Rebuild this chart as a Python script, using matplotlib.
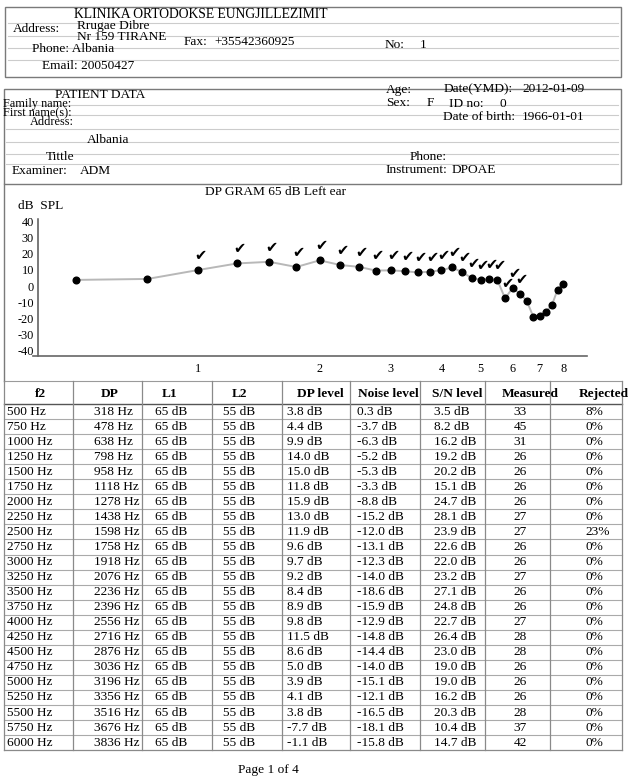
import matplotlib
matplotlib.use("Agg")
from matplotlib import pyplot as plt
from matplotlib.patches import Rectangle

plt.rcParams['font.family'] = ['Liberation Serif', 'DejaVu Serif']

# table rows (page 1)
f2_hz = [500, 750, 1000, 1250, 1500, 1750, 2000, 2250, 2500, 2750, 3000, 3250,
         3500, 3750, 4000, 4250, 4500, 4750, 5000, 5250, 5500, 5750, 6000]
dp_hz = [318, 478, 638, 798, 958, 1118, 1278, 1438, 1598, 1758, 1918, 2076,
         2236, 2396, 2556, 2716, 2876, 3036, 3196, 3356, 3516, 3676, 3836]
l1_db = [65] * 23
l2_db = [55] * 23
dp_level = [3.8, 4.4, 9.9, 14.0, 15.0, 11.8, 15.9, 13.0, 11.9, 9.6, 9.7, 9.2,
            8.4, 8.9, 9.8, 11.5, 8.6, 5.0, 3.9, 4.1, 3.8, -7.7, -1.1]
noise_level = [0.3, -3.7, -6.3, -5.2, -5.3, -3.3, -8.8, -15.2, -12.0, -13.1, -12.3, -14.0,
               -18.6, -15.9, -12.9, -14.8, -14.4, -14.0, -15.1, -12.1, -16.5, -18.1, -15.8]
sn_level = [3.5, 8.2, 16.2, 19.2, 20.2, 15.1, 24.7, 28.1, 23.9, 22.6, 22.0, 23.2,
            27.1, 24.8, 22.7, 26.4, 23.0, 19.0, 19.0, 16.2, 20.3, 10.4, 14.7]
measured = [33, 45, 31, 26, 26, 26, 26, 27, 27, 26, 26, 27,
            26, 26, 27, 28, 28, 26, 26, 26, 28, 37, 42]
rejected = [8, 0, 0, 0, 0, 0, 0, 0, 23, 0, 0, 0,
            0, 0, 0, 0, 0, 0, 0, 0, 0, 0, 0]

# dp-gram points, the last ones come from the next pages
gram_f2 = f2_hz + [6250, 6500, 6750, 7000, 7250, 7500, 7750, 8000]
gram_dp = dp_level + [-4.7, -9.0, -19.0, -18.3, -16.0, -12.0, -2.3, 1.4]
gram_ok = [0, 0, 1, 1, 1, 1, 1, 1, 1, 1, 1, 1, 1, 1, 1, 1, 1, 1, 1, 1, 1, 1, 1,
           1, 0, 0, 0, 0, 0, 0, 0]

y_ticks = [40, 30, 20, 10, 0, -10, -20, -30, -40]
x_ticks = [1000, 2000, 3000, 4000, 5000, 6000, 7000, 8000]
x_labels = ["1", "2", "3", "4", "5", "6", "7", "8"]

W, H = 631, 779
fig = plt.figure(figsize=(W / 100, H / 100), dpi=100)

page = fig.add_axes([0, 0, 1, 1])
page.set_xlim(0, W)
page.set_ylim(H, 0)
page.axis("off")

fs = 9.6
box_col = "#7a7a7a"
form_col = "#cccccc"


def txt(s, x, y, size=fs, **kw):
    page.text(x, y, s, fontsize=size, va="center", ha=kw.pop("ha", "left"), **kw)


def hline(y, x0, x1, col=form_col, lw=0.8):
    page.plot([x0, x1], [y, y], color=col, lw=lw)


# header box
page.add_patch(Rectangle((5, 7), 616, 70, fill=False, ec=box_col, lw=1))
for y in [23, 36, 48, 60]:
    hline(y, 8, 618)
txt("KLINIKA ORTODOKSE EUNGJILLEZIMIT", 74, 14, 9.8)
txt("Address:", 13, 29)
txt("Rrugae Dibre", 77, 26)
txt("Nr 159 TIRANE", 77, 37)
txt("Fax:", 184, 42)
txt("+35542360925", 214, 42)
txt("No:", 385, 45)
txt("1", 420, 45)
txt("Phone: Albania", 32, 49)
txt("Email: 20050427", 42, 66)

# patient data box
page.add_patch(Rectangle((4, 89), 617, 95, fill=False, ec=box_col, lw=1))
page.plot([4, 4], [184, 381], color=box_col, lw=1)
for y in [105, 115, 129, 142, 154, 164]:
    hline(y, 6, 618)
txt("PATIENT DATA", 55, 95)
txt("Family name:", 3, 104, 8.8)
txt("First name(s):", 3, 113, 8.8)
txt("Address:", 30, 122, 8.8)
txt("Albania", 87, 140)
txt("Tittle", 46, 157)
txt("Examiner:", 12, 171)
txt("ADM", 80, 171)
txt("Age:", 386, 90)
txt("Date(YMD):", 444, 89)
txt("2012-01-09", 522, 89)
txt("Sex:", 386, 103)
txt("F", 427, 103)
txt("ID no:", 449, 104)
txt("0", 500, 104)
txt("Date of birth:", 443, 117)
txt("1966-01-01", 522, 117)
txt("Phone:", 410, 157)
txt("Instrument:", 386, 170)
txt("DPOAE", 452, 170)

# dp-gram
txt("DP GRAM 65 dB Left ear", 205, 192)
txt("dB  SPL", 18, 206)

ax = fig.add_axes([38 / W, 1 - 356 / H, 549 / W, 137 / H])
ax.patch.set_alpha(0)
ax.set_xscale("log")
ax.plot(gram_f2, gram_dp, color="#b8b8b8", lw=1.4, marker="o", ms=4.8,
        mfc="black", mec="black", zorder=3)
for f, v, ok in zip(gram_f2, gram_dp, gram_ok):
    if ok:
        ax.annotate("\u2714", (f, v), xytext=(1.5, 10.5), textcoords="offset points",
                    ha="center", va="center", fontsize=10.5,
                    family="DejaVu Sans")
ax.set_xlim(402, 9166)
ax.set_ylim(-43.3, 41.5)
ax.set_yticks(y_ticks)
ax.set_yticklabels([str(t) for t in y_ticks])
ax.set_xticks(x_ticks)
ax.set_xticklabels(x_labels)
ax.minorticks_off()
ax.tick_params(axis="both", length=0, labelsize=8.8)
ax.tick_params(axis="y", pad=3)
ax.tick_params(axis="x", pad=5)
for side in ["top", "right"]:
    ax.spines[side].set_visible(False)
ax.spines["left"].set_color("#555555")
ax.spines["left"].set_linewidth(1.1)
ax.spines["bottom"].set_color("#666666")
ax.spines["bottom"].set_linewidth(1.2)
ax.spines["bottom"].set_bounds(390, 9166)

# table
col_x = [4, 73, 142, 212, 282, 350, 420, 485, 550, 622]
head_y = 394
row0 = 404
row_h = 15.05
n = len(f2_hz)
bottom = row0 + n * row_h
page.plot([4, 622], [381, 381], color="#9a9a9a", lw=0.8)
page.plot([4, 622], [row0, row0], color="#555555", lw=1.0)
for i in range(1, n):
    hline(row0 + i * row_h, 4, 622, "#aaaaaa", 0.8)
page.plot([4, 622], [bottom, bottom], color="#8a8a8a", lw=0.9)
for x in col_x:
    page.plot([x, x], [381, bottom], color="#8a8a8a", lw=0.9)

headers = ["f2", "DP", "L1", "L2", "DP level", "Noise level", "S/N level", "Measured", "Rejected"]
head_cx = [40, 110, 170, 240, 320, 388, 457, 530, 604]
for h, cx in zip(headers, head_cx):
    txt(h, cx, head_y, ha="center", fontweight="bold")

for i in range(n):
    y = row0 + (i + 0.5) * row_h
    txt(f"{f2_hz[i]} Hz", 7, y)
    txt(f"{dp_hz[i]} Hz", 94, y)
    txt(f"{l1_db[i]} dB", 155, y)
    txt(f"{l2_db[i]} dB", 223, y)
    txt(f"{dp_level[i]:.1f} dB", 287, y)
    txt(f"{noise_level[i]:.1f} dB", 357, y)
    txt(f"{sn_level[i]:.1f} dB", 434, y)
    txt(f"{measured[i]}", 520, y, ha="center")
    txt(f"{rejected[i]}%", 585, y)

txt("Page 1 of 4", 268, 770, ha="center")

fig.savefig("out.png", dpi=100)
